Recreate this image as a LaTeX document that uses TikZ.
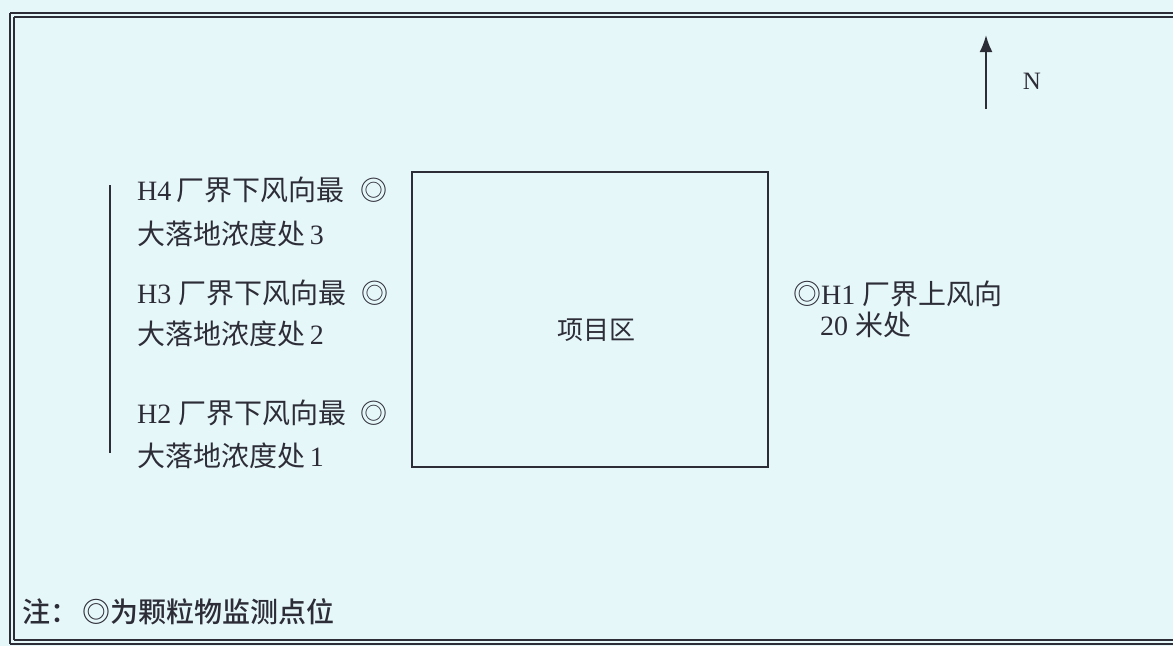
\documentclass[tikz,border=0pt]{standalone}
\usepackage{fontspec}
\setmainfont{Liberation Serif}
\newfontfamily\cjk{Noto Sans CJK SC}
\newfontfamily\cjkmed{Noto Sans CJK SC Medium}
\definecolor{paper}{RGB}{230,247,250}
\definecolor{ink}{RGB}{45,45,55}
\usetikzlibrary{arrows.meta}
\begin{document}
\begin{tikzpicture}[x=1pt,y=-1pt,
  lbl/.style={anchor=west,inner sep=0pt,text=ink,font=\fontsize{28}{32}\selectfont},
  ptmark/.style={inner sep=0pt,text=ink,font=\cjk\fontsize{27}{30}\selectfont},
  frameline/.style={draw=ink,line width=1.2pt}]
\useasboundingbox (0,0) rectangle (1173,646);
\fill[paper] (0,0) rectangle (1173,646);
% double border
\draw[frameline] (10,13) -- (1173,13);
\draw[frameline] (14,17) -- (1173,17);
\draw[frameline] (10,13) -- (10,644);
\draw[frameline] (14,17) -- (14,640);
\draw[frameline] (14,640) -- (1173,640);
\draw[frameline] (10,644) -- (1173,644);
% project area
\node[draw=ink,line width=1.5pt,minimum width=356pt,minimum height=295pt,inner sep=0pt,anchor=north west] (proj) at (411,171) {};
\node[lbl,anchor=center,font=\cjk\fontsize{26}{30}\selectfont] (projlbl) at (596,330) {项目区};
% vertical line
\coordinate (vtop) at (110,185);
\coordinate (vbot) at (110,453);
\draw[ink,line width=1.6pt] (vtop) -- (vbot);
% H4
\node[lbl] (h4a) at (137,190) {H4\,{\cjk 厂界下风向最}};
\node[lbl] (h4b) at (137,234) {{\cjk 大落地浓度处}\,3};
\node[ptmark] (m4) at (374,190) {◎};
% H3
\node[lbl] (h3a) at (137,293) {H3 {\cjk 厂界下风向最}};
\node[lbl] (h3b) at (137,334) {{\cjk 大落地浓度处}\,2};
\node[ptmark] (m3) at (375,293) {◎};
% H2
\node[lbl] (h2a) at (137,413) {H2 {\cjk 厂界下风向最}};
\node[lbl] (h2b) at (137,456) {{\cjk 大落地浓度处}\,1};
\node[ptmark] (m2) at (374,413) {◎};
% H1
\node[lbl] (h1a) at (793,294) {{\cjk ◎}H1 {\cjk 厂界上风向}};
\node[lbl] (h1b) at (820,325) {20 {\cjk 米处}};
% north arrow
\coordinate (nbot) at (986,109);
\coordinate (ntop) at (986,35);
\draw[ink,line width=2pt,-{Latex[length=17pt,width=13pt]}] (nbot) -- (ntop);
\node[lbl,anchor=center,font=\fontsize{25}{28}\selectfont] (N) at (1032,81) {N};
% note
\node[lbl,font=\cjkmed\fontsize{28}{32}\selectfont] (note) at (22,612) {注：\,◎为颗粒物监测点位};
\end{tikzpicture}
\end{document}
